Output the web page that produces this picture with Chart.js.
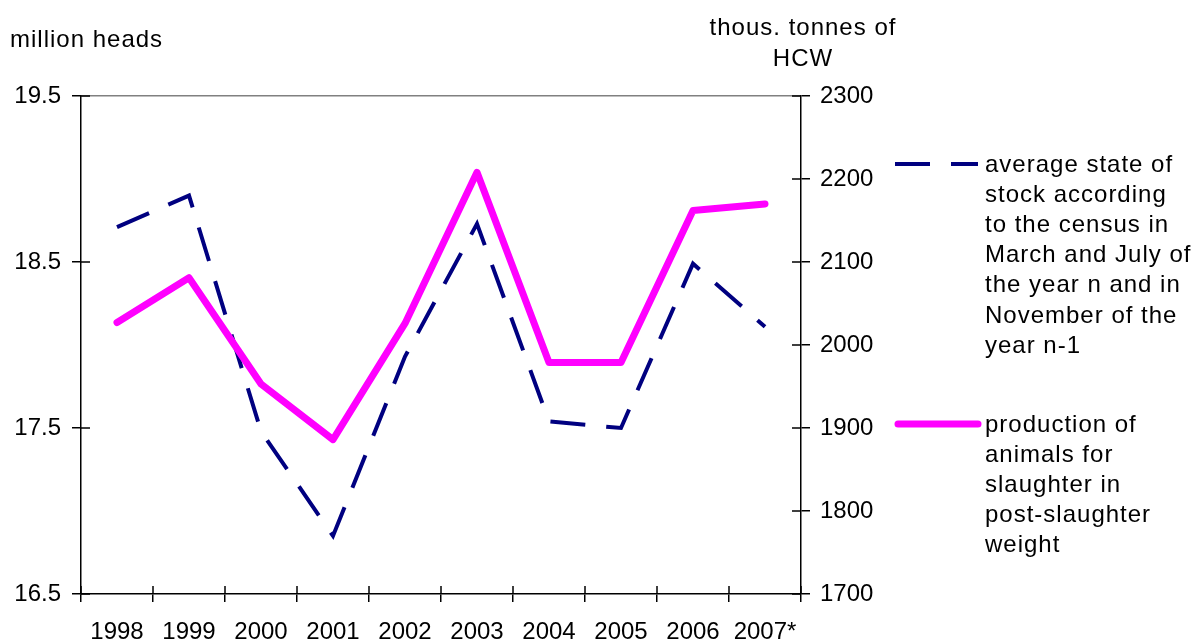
<!DOCTYPE html>
<html>
<head>
<meta charset="utf-8">
<script src="https://cdn.jsdelivr.net/npm/chart.js@4/dist/chart.umd.min.js"></script>
<style>
  html, body { margin: 0; padding: 0; background: #fff; }
  canvas { display: block; }
</style>
</head>
<body>
<canvas id="cattleChart" width="1195" height="643"></canvas>
<script>
// data
const years = ['1998', '1999', '2000', '2001', '2002', '2003', '2004', '2005', '2006', '2007*'];
const stockHeads = [18.71, 18.90, 17.48, 16.85, 17.93, 18.73, 17.54, 17.50, 18.49, 18.11];
const slaughterHcw = [2027, 2081, 1953, 1886, 2026, 2208, 1979, 1979, 2162, 2170];
const leftTicks = [16.5, 17.5, 18.5, 19.5];
const rightTicks = [1700, 1800, 1900, 2000, 2100, 2200, 2300];

const stockLabel = ['average state of', 'stock according', 'to the census in',
    'March and July of', 'the year n and in', 'November of the', 'year n-1'];
const slaughterLabel = ['production of', 'animals for', 'slaughter in',
    'post-slaughter', 'weight'];
const leftTitle = ['million heads'];
const rightTitle = ['thous. tonnes of', 'HCW'];

const FONT = "'Liberation Sans', Arial, sans-serif";
Chart.defaults.font.family = FONT;
Chart.defaults.color = '#000';

// ticks crossing the axes (inner half)
const innerTicks = {
    id: 'innerTicks',
    afterDraw(chart) {
        const ctx = chart.ctx;
        const a = chart.chartArea;
        ctx.save();
        ctx.strokeStyle = '#000';
        ctx.lineWidth = 1.5;
        ctx.beginPath();
        const yl = chart.scales.y;
        yl.ticks.forEach(t => {
            const y = yl.getPixelForValue(t.value);
            ctx.moveTo(a.left, y); ctx.lineTo(a.left + 9, y);
        });
        const yr = chart.scales.y2;
        yr.ticks.forEach(t => {
            const y = yr.getPixelForValue(t.value);
            ctx.moveTo(a.right, y); ctx.lineTo(a.right - 9, y);
        });
        const n = years.length;
        for (let i = 0; i <= n; i++) {
            const x = a.left + i * (a.right - a.left) / n;
            ctx.moveTo(x, a.bottom); ctx.lineTo(x, a.bottom - 8);
        }
        ctx.stroke();
        ctx.restore();
    }
};

// axis titles + the wrapped legend on the right
const sideTexts = {
    id: 'sideTexts',
    afterDraw(chart) {
        const ctx = chart.ctx;
        ctx.save();
        ctx.font = '24px ' + FONT;
        ctx.fillStyle = '#000';
        ctx.textBaseline = 'middle';
        ctx.letterSpacing = '1px';

        ctx.textAlign = 'left';
        ctx.fillText(leftTitle[0], 10, 40);
        ctx.textAlign = 'center';
        rightTitle.forEach((s, i) => ctx.fillText(s, 803, 28 + i * 31));

        ctx.textAlign = 'left';
        const blocks = [
            { ds: chart.data.datasets[0], lines: stockLabel, y: 165 },
            { ds: chart.data.datasets[1], lines: slaughterLabel, y: 425 }
        ];
        blocks.forEach(b => {
            ctx.save();
            ctx.strokeStyle = b.ds.borderColor;
            ctx.lineWidth = b.ds.borderWidth;
            ctx.lineCap = b.ds.borderCapStyle || 'butt';
            ctx.setLineDash(b.ds.borderDash || []);
            ctx.beginPath();
            ctx.moveTo(b.ds.borderDash ? 895 : 898, b.y - 1);
            ctx.lineTo(978, b.y - 1);
            ctx.stroke();
            ctx.restore();
            b.lines.forEach((s, i) => ctx.fillText(s, 985, b.y + i * 30.2));
        });
        ctx.restore();
    }
};

new Chart(document.getElementById('cattleChart'), {
    type: 'line',
    data: {
        labels: years,
        datasets: [
            {
                label: stockLabel.join(' '),
                data: stockHeads,
                yAxisID: 'y',
                borderColor: '#000080',
                borderWidth: 4,
                borderDash: [35, 21],
                borderCapStyle: 'butt',
                pointRadius: 0,
                tension: 0,
                fill: false,
                order: 1
            },
            {
                label: slaughterLabel.join(' '),
                data: slaughterHcw,
                yAxisID: 'y2',
                borderColor: '#ff00ff',
                borderWidth: 7,
                borderCapStyle: 'round',
                borderJoinStyle: 'round',
                pointRadius: 0,
                tension: 0,
                fill: false,
                order: 0
            }
        ]
    },
    options: {
        responsive: false,
        devicePixelRatio: 1,
        animation: false,
        layout: { padding: { top: 96, right: 314, left: 0, bottom: 0 } },
        plugins: {
            legend: { display: false },
            tooltip: { enabled: false }
        },
        scales: {
            x: {
                type: 'category',
                offset: true,
                grid: { offset: true, drawOnChartArea: false, tickLength: 8, color: '#000', lineWidth: 1.5 },
                border: { color: '#000', width: 1.5 },
                ticks: { font: { size: 24 }, color: '#000', padding: 16, maxRotation: 0, autoSkip: false },
                afterFit: s => { s.height = 49; }
            },
            y: {
                position: 'left',
                min: 16.5,
                max: 19.5,
                afterBuildTicks: s => { s.ticks = leftTicks.map(v => ({ value: v })); },
                grid: {
                    drawOnChartArea: true,
                    color: c => (c.tick && c.tick.value === 19.5) ? '#808080' : 'rgba(0,0,0,0)',
                    tickColor: '#000',
                    tickLength: 9,
                    lineWidth: 1.5
                },
                border: { color: '#000', width: 1.5 },
                ticks: { font: { size: 24 }, color: '#000', padding: 11, callback: v => Number(v).toFixed(1) },
                afterFit: s => { s.width = 81; }
            },
            y2: {
                position: 'right',
                min: 1700,
                max: 2300,
                afterBuildTicks: s => { s.ticks = rightTicks.map(v => ({ value: v })); },
                grid: { drawOnChartArea: false, tickColor: '#000', tickLength: 9, lineWidth: 1.5 },
                border: { color: '#000', width: 1.5 },
                ticks: { font: { size: 24 }, color: '#000', padding: 10, callback: v => String(v) },
                afterFit: s => { s.width = 80; }
            }
        }
    },
    plugins: [innerTicks, sideTexts]
});
</script>
</body>
</html>
